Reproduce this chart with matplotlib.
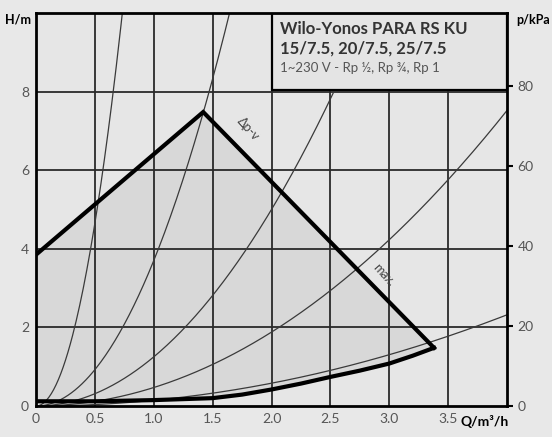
import numpy as np
import matplotlib
matplotlib.use("Agg")
import matplotlib.pyplot as plt
from matplotlib.patches import Rectangle, Polygon

plt.rcParams['font.family'] = ['Lato', 'DejaVu Sans']

# pump curve envelope (Q in m3/h, H in m)
env_top_q = [0.0, 1.42, 3.38]
env_top_h = [3.85, 7.48, 1.48]
env_bot_q = [3.38, 3.2, 3.0, 2.75, 2.5, 2.25, 2.0, 1.75, 1.5, 1.0, 0.5, 0.0]
env_bot_h = [1.48, 1.28, 1.08, 0.90, 0.74, 0.57, 0.42, 0.29, 0.20, 0.15, 0.12, 0.12]

# system curves H = k * Q^2
sys_k = [18.6, 3.7, 1.25, 0.47, 0.145]

x_ticks = [0, 0.5, 1.0, 1.5, 2.0, 2.5, 3.0, 3.5]
x_labels = ["0", "0.5", "1.0", "1.5", "2.0", "2.5", "3.0", "3.5"]
h_ticks = [0, 2, 4, 6, 8]
p_ticks = [0, 20, 40, 60, 80]

fig = plt.figure(figsize=(5.52, 4.37), dpi=100, facecolor='#e8e8e8')
ax = fig.add_axes([36/552, 1 - 406/437, 471/552, 393/437])
ax.set_facecolor('#e6e6e6')
ax.set_xlim(0, 4)
ax.set_ylim(0, 10)

# grid
for q in np.arange(0.5, 4.0, 0.5):
    ax.axvline(q, color='#2a2a2a', lw=1.3, zorder=2)
for h in [2, 4, 6, 8]:
    ax.axhline(h, color='#2a2a2a', lw=1.3, zorder=2)

# shaded envelope
poly_q = env_top_q + env_bot_q[1:]
poly_h = env_top_h + env_bot_h[1:]
ax.add_patch(Polygon(list(zip(poly_q, poly_h)), closed=True,
                     facecolor='#d8d8d8', edgecolor='none', zorder=1))

# system curves
qq = np.linspace(0, 4, 400)
for k in sys_k:
    ax.plot(qq, k * qq**2, color='#3a3a3a', lw=0.9, zorder=3)

ax.plot(env_top_q, env_top_h, color='black', lw=3, zorder=4, solid_joinstyle='miter')
ax.plot(env_bot_q, env_bot_h, color='black', lw=3, zorder=4, solid_joinstyle='round')

ax.text(1.80, 7.05, "Δp-v", rotation=-48, fontsize=9, color='#444444',
        ha='center', va='center', zorder=5)
ax.text(2.95, 3.33, "max.", rotation=-48, fontsize=9, color='#444444',
        ha='center', va='center', zorder=5)

# title box
ax.add_patch(Rectangle((2.0, 8.05), 2.0, 1.95, facecolor='#e4e4e4',
                       edgecolor='black', lw=1.6, zorder=6))
ax.text(2.07, 9.6, "Wilo-Yonos PARA RS KU", fontsize=12, fontweight='bold',
        color='#333333', va='center', zorder=7)
ax.text(2.07, 9.1, "15/7.5, 20/7.5, 25/7.5", fontsize=12, fontweight='bold',
        color='#333333', va='center', zorder=7)
ax.text(2.07, 8.6, "1~230 V - Rp ½, Rp ¾, Rp 1", fontsize=9.5,
        color='#555555', va='center', zorder=7)

for s in ax.spines.values():
    s.set_linewidth(2)
    s.set_zorder(8)

ax.set_xticks(x_ticks)
ax.set_xticklabels(x_labels)
ax.set_yticks(h_ticks)
ax.tick_params(axis='both', length=0, labelsize=10, labelcolor='#555555', pad=5)

# right axis in kPa
ax2 = ax.twinx()
ax2.set_ylim(0, 10 * 9.81)
ax2.set_yticks(p_ticks)
ax2.tick_params(axis='y', direction='out', length=4, width=1.5,
                labelsize=10, labelcolor='#555555')
for s in ax2.spines.values():
    s.set_visible(False)

fig.text(18/552, 1 - 20/437, "H/m", fontsize=9, fontweight='bold', ha='center', va='center')
fig.text(533/552, 1 - 20/437, "p/kPa", fontsize=9, fontweight='bold', ha='center', va='center')
fig.text(485/552, 1 - 421/437, "Q/m³/h", fontsize=10, fontweight='bold', ha='center', va='center')

fig.savefig("out.png", dpi=100, facecolor=fig.get_facecolor())
